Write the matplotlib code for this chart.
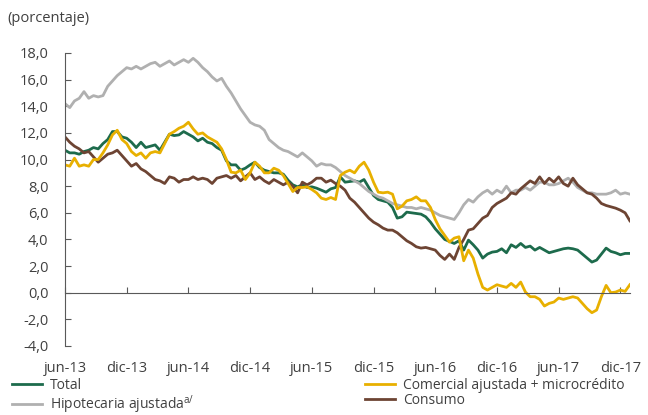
import pandas as pd
import numpy as np
import matplotlib.pyplot as plt

plt.rcParams['font.family'] = ['Open Sans', 'DejaVu Sans']

#==============================================================================
# datos: variacion anual de la cartera (%), datos quincenales
#==============================================================================

fechas = pd.date_range('2013-06-07', periods=120, freq='14D')

total = [10.7, 10.5, 10.5, 10.4, 10.6, 10.7, 10.9, 10.8, 11.2, 11.5,
         12.1, 12.1, 11.7, 11.6, 11.3, 10.9, 11.3, 10.9, 11.0, 11.1,
         10.7, 11.3, 11.9, 11.8, 11.85, 12.1, 11.9, 11.7, 11.4, 11.6,
         11.3, 11.2, 10.9, 10.7, 9.9, 9.6, 9.6, 9.2, 9.35, 9.6,
         9.8, 9.4, 9.2, 9.1, 9.0, 9.0, 8.9, 8.45, 8.1, 7.95,
         8.1, 7.9, 7.95, 7.85, 7.7, 7.55, 7.8, 7.9, 8.7, 8.3,
         8.35, 8.4, 8.3, 8.5, 7.9, 7.3, 7.0, 6.9, 6.8, 6.4,
         5.6, 5.7, 6.05, 6.0, 5.95, 5.9, 5.7, 5.3, 4.8, 4.4,
         4.0, 3.85, 3.7, 3.9, 3.2, 3.95, 3.6, 3.2, 2.6, 2.9,
         3.05, 3.1, 3.3, 3.0, 3.6, 3.4, 3.7, 3.4, 3.5, 3.2,
         3.4, 3.2, 3.0, 3.1, 3.2, 3.3, 3.35, 3.3, 3.2, 2.9,
         2.6, 2.3, 2.45, 2.9, 3.35, 3.1, 3.0, 2.85, 2.95, 2.95]

comercial = [9.6, 9.5, 10.1, 9.5, 9.6, 9.5, 10.0, 10.0, 10.5, 11.1,
             11.85, 12.2, 11.5, 11.2, 10.6, 10.3, 10.5, 10.1, 10.5, 10.6,
             10.5, 11.2, 11.9, 12.1, 12.35, 12.5, 12.8, 12.3, 11.9, 12.0,
             11.7, 11.5, 11.3, 10.8, 10.0, 9.05, 9.0, 9.2, 8.5, 9.0,
             9.8, 9.5, 9.0, 9.0, 9.35, 9.2, 8.8, 8.2, 7.6, 7.9,
             7.9, 7.95, 7.75, 7.5, 7.1, 7.0, 7.15, 7.0, 8.8, 9.05,
             9.2, 9.0, 9.5, 9.8, 9.2, 8.3, 7.55, 7.5, 7.55, 7.4,
             6.3, 6.5, 6.9, 7.0, 7.2, 6.9, 6.9, 6.4, 5.5, 4.8,
             4.3, 3.8, 4.1, 4.2, 2.4, 3.2, 2.6, 1.4, 0.4, 0.2,
             0.4, 0.6, 0.5, 0.4, 0.7, 0.4, 0.8, 0.05, -0.3, -0.3,
             -0.5, -1.0, -0.8, -0.7, -0.4, -0.5, -0.4, -0.3, -0.4, -0.8,
             -1.2, -1.5, -1.3, -0.3, 0.55, 0.0, 0.05, 0.2, 0.1, 0.6]

hipotecaria = [14.2, 13.9, 14.4, 14.6, 15.1, 14.6, 14.8, 14.7, 14.8, 15.5,
               15.9, 16.3, 16.6, 16.9, 16.8, 17.0, 16.8, 17.0, 17.2, 17.3,
               17.0, 17.2, 17.4, 17.1, 17.3, 17.5, 17.3, 17.6, 17.3, 16.9,
               16.6, 16.2, 15.9, 16.1, 15.5, 15.0, 14.4, 13.8, 13.3, 12.8,
               12.6, 12.5, 12.2, 11.5, 11.2, 10.9, 10.7, 10.6, 10.4, 10.2,
               10.5, 10.2, 9.9, 9.5, 9.7, 9.6, 9.6, 9.4, 9.1, 8.8,
               8.6, 8.4, 8.2, 7.9, 7.6, 7.4, 7.2, 7.1, 6.9, 6.7,
               6.6, 6.5, 6.4, 6.4, 6.3, 6.4, 6.3, 6.2, 6.0, 5.8,
               5.7, 5.6, 5.5, 6.0, 6.6, 7.0, 6.8, 7.2, 7.5, 7.7,
               7.4, 7.7, 7.5, 8.0, 7.5, 7.7, 7.7, 7.9, 7.7, 8.0,
               8.3, 8.3, 8.1, 8.1, 8.2, 8.4, 8.6, 8.3, 7.9, 7.7,
               7.5, 7.5, 7.4, 7.4, 7.4, 7.5, 7.7, 7.4, 7.5, 7.4]

consumo = [11.7, 11.3, 11.0, 10.8, 10.5, 10.6, 10.2, 9.8, 10.1, 10.4,
           10.5, 10.7, 10.3, 9.9, 9.5, 9.7, 9.3, 9.1, 8.8, 8.5,
           8.4, 8.2, 8.7, 8.6, 8.3, 8.5, 8.5, 8.7, 8.5, 8.6,
           8.5, 8.2, 8.6, 8.7, 8.8, 8.6, 8.8, 8.4, 8.7, 9.0,
           8.5, 8.7, 8.4, 8.2, 8.5, 8.3, 8.1, 8.3, 8.0, 7.5,
           8.3, 8.1, 8.3, 8.6, 8.6, 8.3, 8.45, 8.2, 8.0, 7.7,
           7.1, 6.8, 6.4, 6.0, 5.6, 5.3, 5.1, 4.85, 4.7, 4.7,
           4.5, 4.2, 3.9, 3.7, 3.45, 3.35, 3.4, 3.3, 3.2, 2.8,
           2.5, 2.9, 2.5, 3.4, 4.0, 4.7, 4.8, 5.2, 5.6, 5.8,
           6.4, 6.7, 6.9, 7.1, 7.5, 7.4, 7.8, 8.1, 8.4, 8.2,
           8.7, 8.2, 8.6, 8.3, 8.7, 8.2, 8.0, 8.6, 8.1, 7.8,
           7.5, 7.4, 7.1, 6.7, 6.55, 6.45, 6.35, 6.2, 6.0, 5.4]

etiquetas_x = ['jun-13', 'dic-13', 'jun-14', 'dic-14', 'jun-15',
               'dic-15', 'jun-16', 'dic-16', 'jun-17', 'dic-17']
fechas_x = pd.date_range('2013-06-07', periods=len(etiquetas_x), freq='182D')

etiquetas_y = ['-4,0', '-2,0', '0,0', '2,0', '4,0', '6,0', '8,0',
               '10,0', '12,0', '14,0', '16,0', '18,0']
valores_y = np.arange(-4, 19, 2)

#==============================================================================
# grafico
#==============================================================================

c_texto = '#404040'
c_eje = '#595959'

fig = plt.figure(figsize=(6.48, 4.15), dpi=100)
ax = fig.add_axes([0.1003, 0.1663, 0.8717, 0.706])

l_tot, = ax.plot(fechas, total, color='#1d6b4c', lw=2.0)
l_hip, = ax.plot(fechas, hipotecaria, color='#b0b0b0', lw=2.0)
l_con, = ax.plot(fechas, consumo, color='#6d4433', lw=2.0)
l_com, = ax.plot(fechas, comercial, color='#e8b000', lw=2.0)

ax.set_xlim(fechas[0], fechas[-1])
ax.set_ylim(-4, 18)

# eje x sobre el cero, etiquetas abajo
ax.spines['bottom'].set_position(('data', 0))
ax.spines['bottom'].set_color(c_eje)
ax.spines['left'].set_color(c_eje)
ax.spines['top'].set_visible(False)
ax.spines['right'].set_visible(False)

ax.set_xticks(fechas_x)
ax.set_xticklabels(etiquetas_x)
ax.set_yticks(valores_y)
ax.set_yticklabels(etiquetas_y)
ax.tick_params(axis='x', direction='in', length=4, color=c_eje,
               labelsize=10.5, labelcolor=c_texto, pad=49)
ax.tick_params(axis='y', direction='in', length=4, color=c_eje,
               labelsize=10.5, labelcolor=c_texto, pad=12)

fig.text(0.012, 0.955, '(porcentaje)', fontsize=10.5, color=c_texto,
         ha='left', va='center')

# leyenda en dos bloques
kw = dict(frameon=False, fontsize=10, handlelength=2.2, handletextpad=0.55,
          labelspacing=0.0, borderaxespad=0, borderpad=0, labelcolor=c_texto)
fig.legend([l_tot, l_hip], ['Total', 'Hipotecaria ajustada$^{\\mathregular{a/}}$'],
           loc='upper left', bbox_to_anchor=(0.018, 0.089), **kw)
fig.legend([l_com, l_con], ['Comercial ajustada + microcrédito', 'Consumo'],
           loc='upper left', bbox_to_anchor=(0.563, 0.089), **kw)

fig.savefig('out.png', dpi=100)
